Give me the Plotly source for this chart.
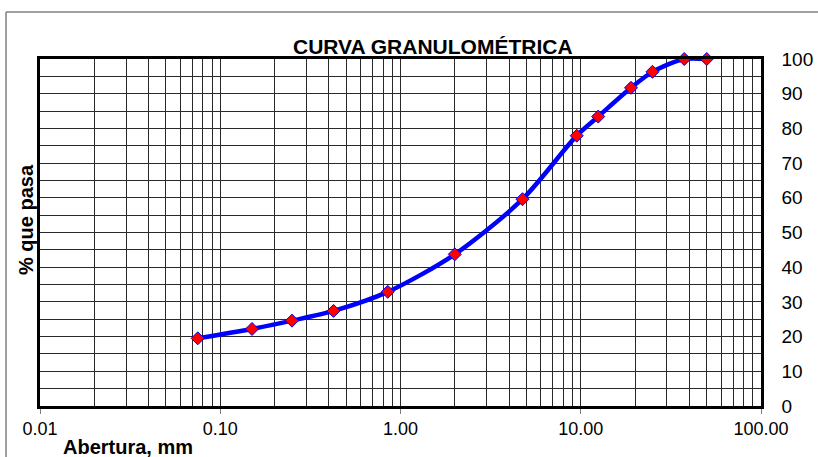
import plotly.graph_objects as go

# Data
abertura_mm = [0.075, 0.15, 0.25, 0.425, 0.85, 2.0, 4.75, 9.5, 12.5, 19.0, 25.0, 37.5, 50.0]
pct_pasa = [19.5, 22.2, 24.6, 27.4, 32.9, 43.7, 59.6, 77.9, 83.4, 91.7, 96.3, 100.0, 100.0]

x_tickvals = [0.01, 0.1, 1, 10, 100]
x_ticktext = ["0.01", "0.10", "1.00", "10.00", "100.00"]
y_tickvals = [0, 10, 20, 30, 40, 50, 60, 70, 80, 90, 100]
y_minor = [5, 15, 25, 35, 45, 55, 65, 75, 85, 95]
x_minor = [m * d for d in [0.01, 0.1, 1, 10] for m in range(2, 10)]

W, H = 818, 457
L, R, T, B = 40, 761, 59, 406  # plot area in pixels

def px(xp):
    return (xp - L) / (R - L)

def py(yp):
    return (B - yp) / (B - T)

FONT = "Arial, Liberation Sans, sans-serif"

fig = go.Figure()
fig.add_trace(go.Scatter(
    x=abertura_mm, y=pct_pasa, mode="lines+markers",
    line=dict(color="#0000FF", width=4.5, shape="spline", smoothing=0.8),
    marker=dict(symbol="diamond", size=10, color="#FF0000",
                line=dict(color="#0000FF", width=1)),
    cliponaxis=False, showlegend=False,
))

grid_col = "#2a2a2a"
fig.update_xaxes(
    type="log", range=[-2, 2],
    tickmode="array", tickvals=x_tickvals, ticktext=x_ticktext,
    ticks="outside", ticklen=5, tickcolor="#808080", tickwidth=1,
    showgrid=True, gridcolor=grid_col, gridwidth=1,
    minor=dict(tickmode="array", tickvals=x_minor, showgrid=True,
               gridcolor=grid_col, gridwidth=1, ticks=""),
    showline=True, linecolor="black", linewidth=2.5, mirror=True,
    tickfont=dict(family=FONT, size=18, color="black"),
    zeroline=False,
)
fig.update_yaxes(
    range=[0, 100], side="right",
    tickmode="array", tickvals=y_tickvals,
    ticks="outside", ticklen=4, tickcolor="rgba(0,0,0,0)",
    ticklabelstandoff=10,
    showgrid=True, gridcolor=grid_col, gridwidth=1,
    minor=dict(tickmode="array", tickvals=y_minor, showgrid=True,
               gridcolor=grid_col, gridwidth=1, ticks=""),
    showline=True, linecolor="black", linewidth=2.5, mirror=True,
    tickfont=dict(family=FONT, size=19, color="black"),
    zeroline=False,
)

fig.update_layout(
    width=W, height=H,
    margin=dict(l=L, r=W - R, t=T, b=H - B, autoexpand=False),
    paper_bgcolor="white", plot_bgcolor="white",
    shapes=[
        dict(type="line", xref="paper", yref="paper", x0=px(6), x1=px(830),
             y0=py(12), y1=py(12), line=dict(color="#808080", width=1.5)),
        dict(type="line", xref="paper", yref="paper", x0=px(6), x1=px(6),
             y0=py(12), y1=py(470), line=dict(color="#808080", width=1.5)),
    ],
    annotations=[
        dict(text="<b>CURVA GRANULOMÉTRICA</b>", xref="paper", yref="paper",
             x=px(433), y=py(46), xanchor="center", yanchor="middle",
             showarrow=False, font=dict(family=FONT, size=21, color="black")),
        dict(text="<b>Abertura, mm</b>", xref="paper", yref="paper",
             x=px(61), y=py(447), xanchor="left", yanchor="middle",
             showarrow=False, font=dict(family=FONT, size=20, color="black")),
        dict(text="<b>% que pasa</b>", xref="paper", yref="paper",
             x=px(26), y=py(220), xanchor="center", yanchor="middle",
             textangle=-90,
             showarrow=False, font=dict(family=FONT, size=20, color="black")),
    ],
)

fig.write_html(
    "out.html",
    config={"displayModeBar": False},
    post_script="document.body.style.margin='0';document.body.style.overflow='hidden';",
)
